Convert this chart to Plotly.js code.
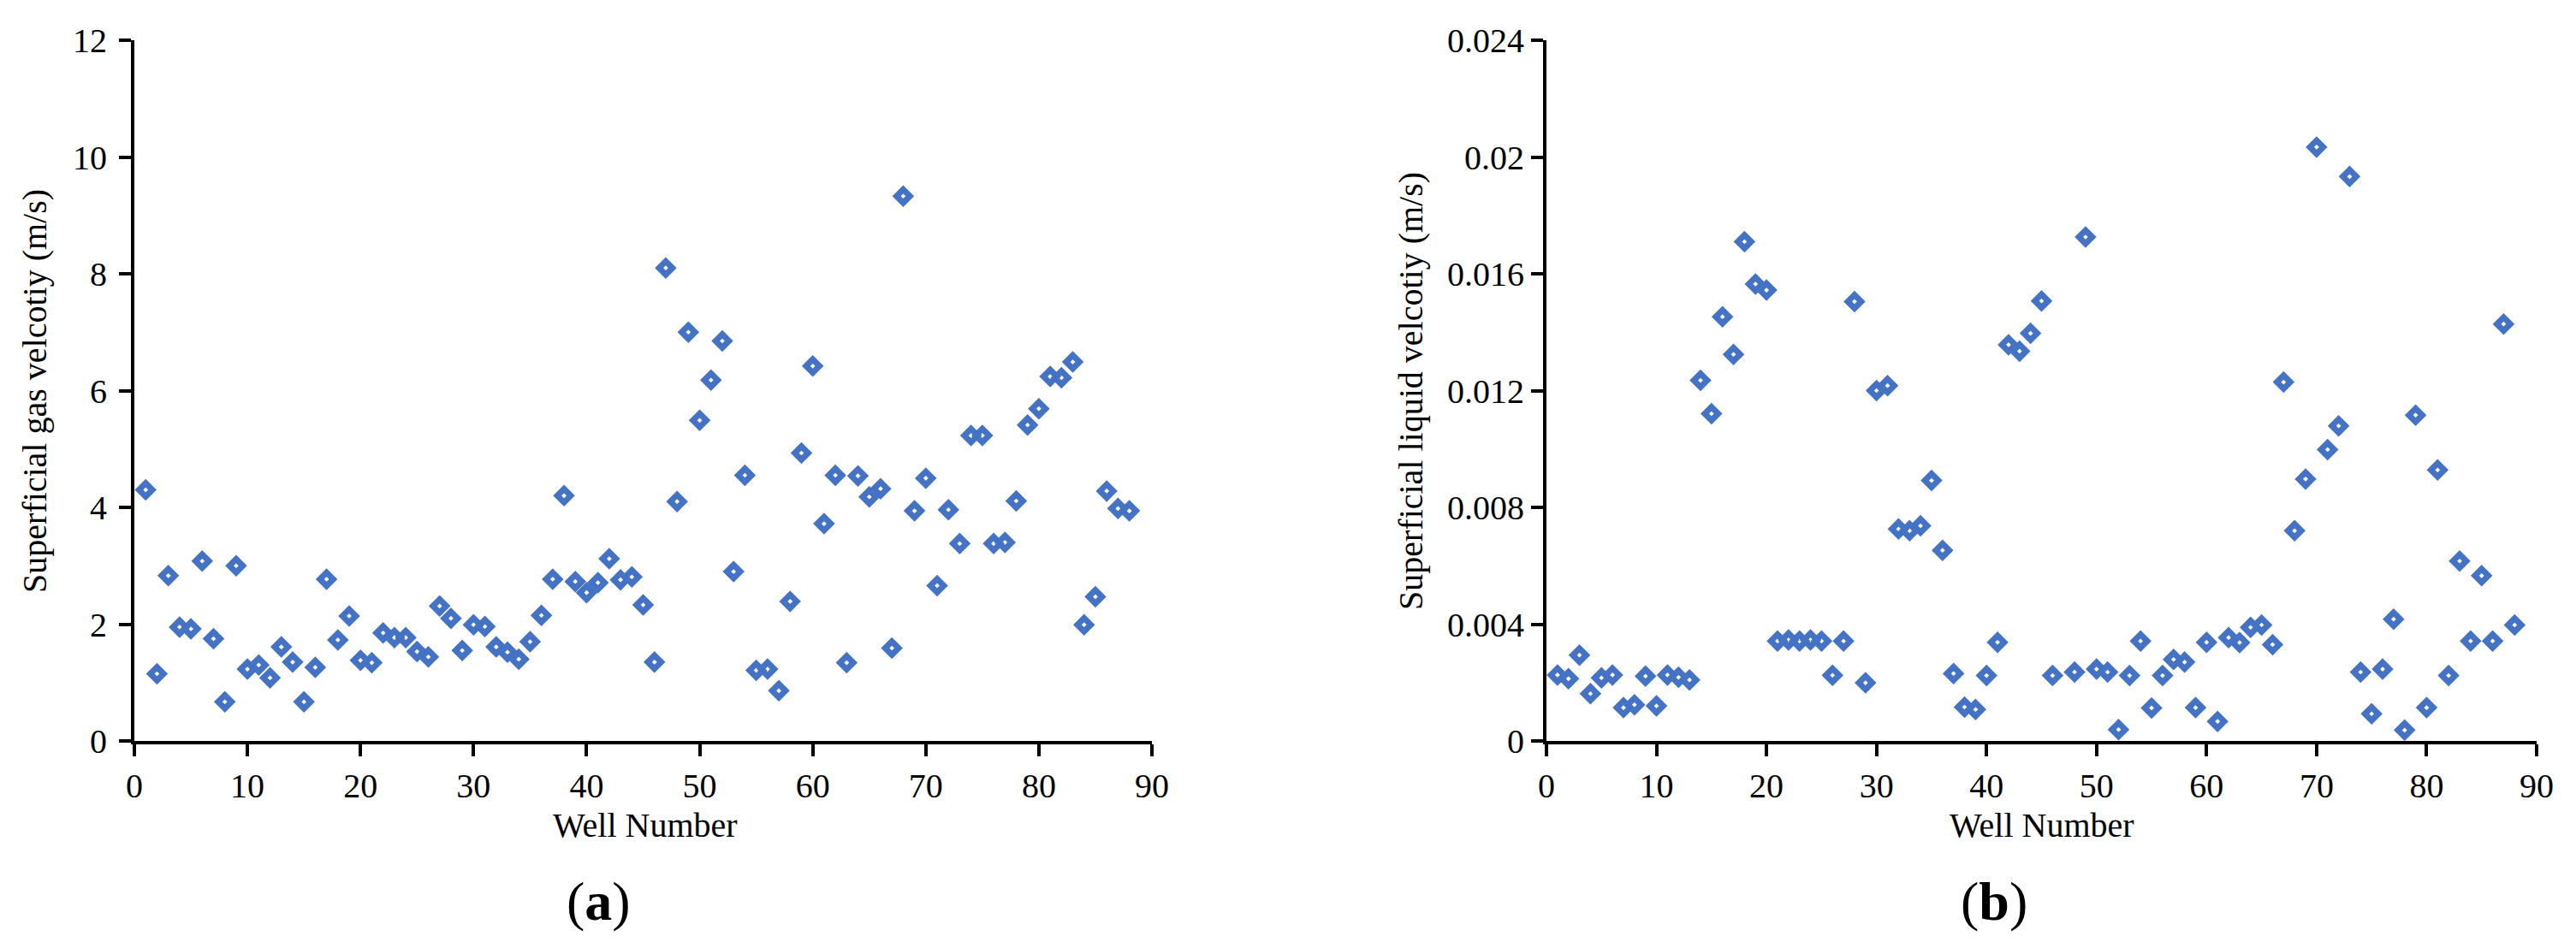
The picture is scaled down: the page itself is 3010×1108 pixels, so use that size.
<!DOCTYPE html>
<html>
<head>
<meta charset="utf-8">
<script src="https://cdn.plot.ly/plotly-3.0.1.min.js"></script>
<style>
  html, body { margin: 0; padding: 0; background: #fff; }
  #chart { width: 3010px; height: 1108px; }
</style>
</head>
<body>
<div id="chart"></div>
<script>
// well numbers shared by both panels
const wells = [
  1, 2, 3, 4, 5, 6, 7, 8, 9, 10, 11, 12, 13, 14, 15, 16, 17, 18, 19, 20,
  21, 22, 23, 24, 25, 26, 27, 28, 29, 30, 31, 32, 33, 34, 35, 36, 37, 38, 39, 40,
  41, 42, 43, 44, 45, 46, 47, 48, 49, 50, 51, 52, 53, 54, 55, 56, 57, 58, 59, 60,
  61, 62, 63, 64, 65, 66, 67, 68, 69, 70, 71, 72, 73, 74, 75, 76, 77, 78, 79, 80,
  81, 82, 83, 84, 85, 86, 87, 88
]

// (a) superficial gas velocity, m/s
const gasVelocity = [
  4.30, 1.15, 2.83, 1.95, 1.92, 3.08, 1.75, 0.67, 3.00, 1.23,
  1.30, 1.08, 1.61, 1.35, 0.67, 1.26, 2.77, 1.73, 2.14, 1.38,
  1.34, 1.85, 1.77, 1.77, 1.53, 1.44, 2.31, 2.10, 1.55, 1.99,
  1.96, 1.61, 1.52, 1.40, 1.70, 2.15, 2.77, 4.20, 2.73, 2.54,
  2.71, 3.12, 2.76, 2.81, 2.33, 1.35, 8.10, 4.10, 7.00, 5.49,
  6.18, 6.85, 2.90, 4.55, 1.21, 1.23, 0.86, 2.39, 4.93, 6.42,
  3.72, 4.55, 1.34, 4.54, 4.18, 4.32, 1.59, 9.33, 3.94, 4.50,
  2.66, 3.96, 3.38, 5.23, 5.23, 3.38, 3.40, 4.11, 5.41, 5.69,
  6.24, 6.22, 6.49, 1.99, 2.47, 4.28, 3.98, 3.94
]

// (b) superficial liquid velocity, m/s (no reading for well 47)
const liquidVelocity = [
  0.00226, 0.00213, 0.00294, 0.00162, 0.00216, 0.00226, 0.00114, 0.00124, 0.00222, 0.00120,
  0.00226, 0.00218, 0.00209, 0.01235, 0.01121, 0.01453, 0.01324, 0.01710, 0.01565, 0.01544,
  0.00342, 0.00346, 0.00342, 0.00346, 0.00342, 0.00225, 0.00342, 0.01505, 0.00199, 0.01200,
  0.01217, 0.00726, 0.00720, 0.00737, 0.00892, 0.00653, 0.00231, 0.00116, 0.00108, 0.00224,
  0.00338, 0.01357, 0.01335, 0.01396, 0.01507, 0.00224, null, 0.00236, 0.01726, 0.00246,
  0.00236, 0.00039, 0.00224, 0.00342, 0.00113, 0.00224, 0.00279, 0.00270, 0.00114, 0.00338,
  0.00067, 0.00354, 0.00337, 0.00389, 0.00397, 0.00330, 0.01229, 0.00720, 0.00897, 0.02034,
  0.00998, 0.01079, 0.01933, 0.00236, 0.00093, 0.00246, 0.00417, 0.00037, 0.01116, 0.00114,
  0.00928, 0.00224, 0.00616, 0.00342, 0.00566, 0.00342, 0.01428, 0.00397
]

const W = 3010
const H = 1108
const BLUE = '#4472C4'
const FONT = '"Liberation Serif", "Times New Roman", serif'

const px = x => x / W
const py = y => 1 - y / H

const marker = {
  symbol: 'diamond-open',
  size: 12,
  color: BLUE,
  line: { color: BLUE, width: 7 }
}

const traceA = {
  x: wells, y: gasVelocity,
  type: 'scatter', mode: 'markers',
  xaxis: 'x', yaxis: 'y',
  marker: marker,
  showlegend: false
}

const traceB = {
  x: wells, y: liquidVelocity,
  type: 'scatter', mode: 'markers',
  xaxis: 'x2', yaxis: 'y2',
  marker: marker,
  showlegend: false
}

function baseAxis(extra) {
  return Object.assign({
    showline: true,
    linecolor: 'black',
    linewidth: 4,
    mirror: false,
    showgrid: false,
    zeroline: false,
    ticks: 'outside',
    ticklen: 14,
    tickwidth: 4,
    tickcolor: 'black',
    tickfont: { family: FONT, size: 40, color: 'black' },
    automargin: false,
    fixedrange: true
  }, extra)
}

const plotTop = 47
const plotBottom = 866
const yDomain = [py(plotBottom), py(plotTop)]

const textFont = { family: FONT, size: 40, color: 'black' }

const layout = {
  width: W,
  height: H,
  margin: { l: 0, r: 0, t: 0, b: 0 },
  font: textFont,
  paper_bgcolor: 'white',
  plot_bgcolor: 'white',
  showlegend: false,
  xaxis: baseAxis({ domain: [px(157), px(1346)], range: [0, 90], dtick: 10, anchor: 'y' }),
  yaxis: baseAxis({ domain: yDomain, range: [0, 12], dtick: 2, anchor: 'x', ticklabelstandoff: 6 }),
  xaxis2: baseAxis({ domain: [px(1807), px(2964)], range: [0, 90], dtick: 10, anchor: 'y2' }),
  yaxis2: baseAxis({ domain: yDomain, range: [0, 0.024], dtick: 0.004, anchor: 'x2' }),
  annotations: [
    {
      text: 'Superficial gas velcotiy (m/s)',
      x: px(40), y: py(457), xref: 'paper', yref: 'paper',
      textangle: -90, showarrow: false, xanchor: 'center', yanchor: 'middle',
      font: textFont
    },
    {
      text: 'Superficial liquid velcotiy (m/s)',
      x: px(1648), y: py(457), xref: 'paper', yref: 'paper',
      textangle: -90, showarrow: false, xanchor: 'center', yanchor: 'middle',
      font: textFont
    },
    {
      text: 'Well Number',
      x: px(754), y: py(964), xref: 'paper', yref: 'paper',
      showarrow: false, xanchor: 'center', yanchor: 'middle',
      font: textFont
    },
    {
      text: 'Well Number',
      x: px(2386), y: py(964), xref: 'paper', yref: 'paper',
      showarrow: false, xanchor: 'center', yanchor: 'middle',
      font: textFont
    },
    {
      text: '(<b>a</b>)',
      x: px(699), y: py(1053), xref: 'paper', yref: 'paper',
      showarrow: false, xanchor: 'center', yanchor: 'middle',
      font: { family: FONT, size: 64, color: 'black' }
    },
    {
      text: '(<b>b</b>)',
      x: px(2330), y: py(1053), xref: 'paper', yref: 'paper',
      showarrow: false, xanchor: 'center', yanchor: 'middle',
      font: { family: FONT, size: 64, color: 'black' }
    }
  ]
}

Plotly.newPlot('chart', [traceA, traceB], layout, { responsive: false, displayModeBar: false, staticPlot: true })
</script>
</body>
</html>
